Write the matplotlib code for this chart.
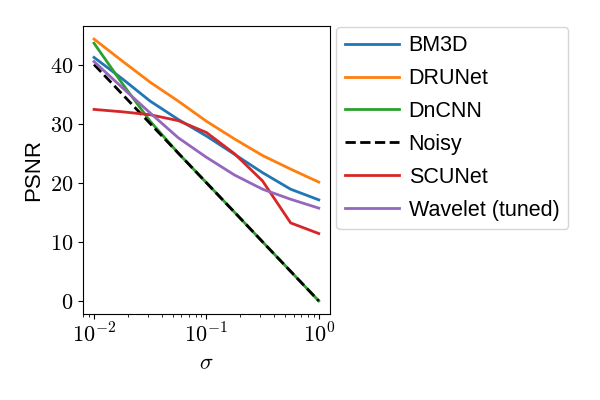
import numpy as np
import matplotlib
matplotlib.use("Agg")
import matplotlib.pyplot as plt
from matplotlib.ticker import FuncFormatter

plt.rcParams['mathtext.fontset'] = 'cm'
plt.rcParams['font.family'] = ['Liberation Sans', 'DejaVu Sans']

# noise levels (sigma) and PSNR per method
sigma = [0.01, 0.0178, 0.0316, 0.0562, 0.1, 0.178, 0.316, 0.562, 1.0]
bm3d = [41.2, 37.6, 33.8, 30.7, 27.9, 24.8, 21.7, 18.9, 17.1]
drunet = [44.3, 40.6, 37.0, 33.8, 30.4, 27.4, 24.6, 22.3, 20.1]
dncnn = [43.6, 36.8, 30.4, 25.0, 20.0, 15.0, 10.0, 5.0, 0.0]
noisy = [40.0, 35.0, 30.0, 25.0, 20.0, 15.0, 10.0, 5.0, 0.0]
scunet = [32.4, 32.0, 31.5, 30.5, 28.5, 24.9, 20.3, 13.2, 11.4]
wavelet = [40.5, 36.1, 31.8, 27.6, 24.3, 21.3, 18.9, 17.2, 15.7]

fig = plt.figure(figsize=(6, 4), dpi=100)
ax = fig.add_axes([0.138, 0.215, 0.412, 0.72])

ax.plot(sigma, bm3d, color='tab:blue', lw=2, label='BM3D')
ax.plot(sigma, drunet, color='tab:orange', lw=2, label='DRUNet')
ax.plot(sigma, dncnn, color='tab:green', lw=2, label='DnCNN')
ax.plot(sigma, noisy, color='black', lw=2, ls='--', label='Noisy')
ax.plot(sigma, scunet, color='tab:red', lw=2, label='SCUNet')
ax.plot(sigma, wavelet, color='tab:purple', lw=2, label='Wavelet (tuned)')

ax.set_xscale('log')
ax.xaxis.set_major_formatter(FuncFormatter(lambda v, p: r'$10^{%d}$' % round(np.log10(v))))
ax.yaxis.set_major_formatter(FuncFormatter(lambda v, p: r'$%d$' % round(v)))
ax.set_xlabel(r'$\sigma$', fontsize=16)
ax.set_ylabel('PSNR', fontsize=16)
ax.tick_params(labelsize=16)

ax.legend(loc='upper left', bbox_to_anchor=(1.0, 1.02), fontsize=15.5,
          handlelength=2.5, handletextpad=0.45, labelspacing=0.55,
          borderaxespad=0.3)

fig.savefig('out.png', dpi=100)
